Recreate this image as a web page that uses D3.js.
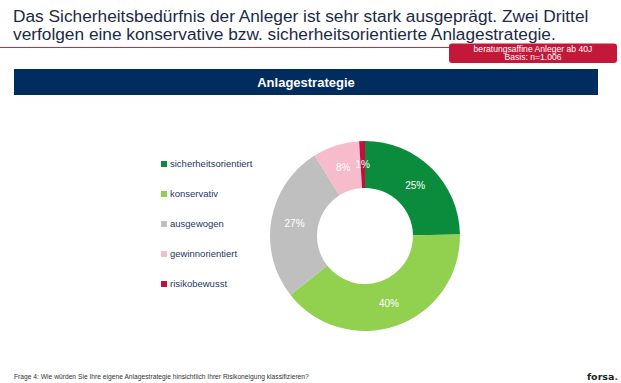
<!DOCTYPE html>
<html>
<head>
<meta charset="utf-8">
<script src="https://cdn.jsdelivr.net/npm/d3@7"></script>
<style>
  body { margin: 0; background: #fff; }
  svg { display: block; font-family: "Liberation Sans", Arial, sans-serif; }
</style>
</head>
<body>
<svg id="chart" width="621" height="383"></svg>
<script>
const categories = ['sicherheitsorientiert', 'konservativ', 'ausgewogen', 'gewinnorientiert', 'risikobewusst']
const shares = [25, 40, 27, 8, 1]
const colors = ['#0b8c3d', '#92d050', '#bfbfbf', '#f6bccb', '#c20f3c']

const titleLines = [
    'Das Sicherheitsbedürfnis der Anleger ist sehr stark ausgeprägt. Zwei Drittel',
    'verfolgen eine konservative bzw. sicherheitsorientierte Anlagestrategie.'
]
const baseLines = ['beratungsaffine Anleger ab 40J', 'Basis: n=1.006']
const panelTitle = 'Anlagestrategie'
const question = 'Frage 4: Wie würden Sie Ihre eigene Anlagestrategie hinsichtlich Ihrer Risikoneigung klassifizieren?'

const chart = d3.select('#chart')

function drawHeader() {
    chart.selectAll()
        .data(titleLines)
        .enter()
        .append('text')
        .attr('x', 13)
        .attr('y', (d, i) => 21.5 + i * 18.5)
        .attr('font-size', 17.3)
        .attr('fill', '#1c2b45')
        .text(d => d)

    chart.append('line')
        .attr('x1', 0).attr('x2', 450)
        .attr('y1', 47.5).attr('y2', 47.5)
        .attr('stroke', '#c0304a')
        .attr('stroke-width', 1)

    chart.append('rect')
        .attr('x', 449).attr('y', 43.5)
        .attr('width', 168).attr('height', 19.5)
        .attr('rx', 3)
        .attr('fill', '#c41839')

    chart.selectAll()
        .data(baseLines)
        .enter()
        .append('text')
        .attr('x', 533)
        .attr('y', (d, i) => 51.8 + i * 8.5)
        .attr('text-anchor', 'middle')
        .attr('font-size', 8.6)
        .attr('font-family', '"Liberation Sans Narrow", "Liberation Sans", sans-serif')
        .attr('fill', '#fff')
        .text(d => d)

    chart.append('rect')
        .attr('x', 14).attr('y', 69)
        .attr('width', 584).attr('height', 26)
        .attr('fill', '#002d5d')

    chart.append('text')
        .attr('x', 306).attr('y', 87)
        .attr('text-anchor', 'middle')
        .attr('font-size', 13)
        .attr('font-weight', 'bold')
        .attr('font-family', '"Liberation Sans Narrow", "Liberation Sans", sans-serif')
        .attr('fill', '#fff')
        .text(panelTitle)
}

function drawDonut() {
    const cx = 365, cy = 236, outer = 95, inner = 48
    const pie = d3.pie().sort(null).value(d => d)
    const arc = d3.arc().innerRadius(inner).outerRadius(outer)
    const labelArc = d3.arc().innerRadius((inner + outer) / 2).outerRadius((inner + outer) / 2)
    const arcs = pie(shares)

    const g = chart.append('g').attr('transform', `translate(${cx},${cy})`)

    g.selectAll()
        .data(arcs)
        .enter()
        .append('path')
        .attr('d', arc)
        .attr('fill', (d, i) => colors[i])

    g.selectAll()
        .data(arcs)
        .enter()
        .append('text')
        .attr('transform', d => {
            const [x, y] = labelArc.centroid(d)
            return `translate(${x},${y})`
        })
        .attr('text-anchor', 'middle')
        .attr('dy', '0.35em')
        .attr('font-size', 10)
        .attr('fill', '#fff')
        .text(d => `${d.data}%`)
}

function drawLegend() {
    const y = d3.scalePoint().domain(categories).range([164, 284])

    const rows = chart.selectAll()
        .data(categories)
        .enter()
        .append('g')
        .attr('transform', d => `translate(161,${y(d)})`)

    rows.append('rect')
        .attr('x', 0).attr('y', -3)
        .attr('width', 6).attr('height', 6)
        .attr('fill', (d, i) => colors[i])

    rows.append('text')
        .attr('x', 9)
        .attr('dy', '0.35em')
        .attr('font-size', 9.5)
        .attr('fill', '#1f3864')
        .text(d => d)
}

function drawFooter() {
    chart.append('text')
        .attr('x', 14).attr('y', 379)
        .attr('font-size', 6.7)
        .attr('fill', '#333')
        .text(question)

    const logo = chart.append('text')
        .attr('x', 618).attr('y', 380)
        .attr('text-anchor', 'end')
        .attr('font-size', 9.5)
        .attr('font-weight', 'bold')
        .attr('font-family', '"DejaVu Sans", sans-serif')
        .attr('fill', '#222')
    logo.append('tspan').text('forsa')
    logo.append('tspan').attr('fill', '#c41839').text('.')
}

drawHeader()
drawDonut()
drawLegend()
drawFooter()
</script>
</body>
</html>
